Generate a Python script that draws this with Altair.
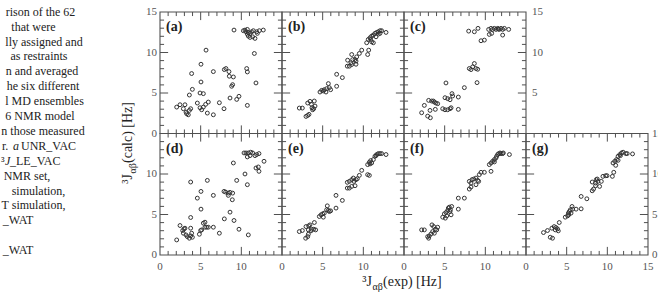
import altair as alt
import pandas as pd

# 3J(alpha,beta) couplings: experimental value vs. value back-calculated from each ensemble
A_EXP = [9.1, 10.25, 10.45, 10.74, 10.57, 10.86, 11.07, 11.27, 11.48, 11.89, 11.97, 12.21, 12.7, 10.86, 11.07, 11.39, 11.68, 10.74, 11.6, 11.8, 10.66, 10.74, 5.66, 5.04, 3.89, 6.56, 7.91, 8.11, 8.48, 8.52, 9.02, 8.93, 8.81, 5.04, 3.98, 3.61, 4.92, 5.33, 8.61, 9.43, 9.71, 10.74, 7.3, 7.87, 5.94, 5.61, 5.33, 4.59, 4.92, 5.12, 5.82, 6.56, 2.46, 2.05, 3.07, 2.87, 3.2, 3.28, 3.61, 3.77, 3.48]
A_CALC = [12.77, 12.69, 12.77, 12.85, 12.56, 12.48, 12.36, 12.56, 12.69, 12.56, 12.36, 12.69, 12.77, 12.02, 11.86, 11.94, 11.74, 12.27, 9.88, 6.24, 8.02, 7.6, 10.29, 8.55, 7.4, 7.64, 7.89, 8.02, 7.64, 7.07, 6.98, 6.03, 5.83, 6.36, 5.45, 4.75, 5.0, 4.92, 4.38, 4.21, 4.59, 3.47, 3.8, 3.06, 3.88, 3.6, 3.26, 3.76, 3.18, 2.93, 2.52, 2.31, 3.55, 3.26, 3.55, 3.06, 2.64, 2.44, 2.85, 3.06, 2.31]

B_EXP = [2.13, 2.5, 2.95, 3.16, 3.32, 3.16, 3.44, 3.97, 3.61, 3.69, 3.9, 4.06, 3.77, 4.67, 4.88, 5.08, 5.2, 5.49, 5.7, 5.82, 5.98, 5.41, 6.72, 6.72, 7.42, 8.03, 8.28, 8.48, 8.07, 8.57, 8.69, 8.98, 9.1, 9.18, 9.51, 9.8, 9.1, 8.57, 10.53, 10.66, 10.41, 10.61, 10.82, 11.02, 11.23, 11.43, 11.64, 11.84, 12.05, 12.25, 12.79, 11.23, 11.02, 11.56, 10.9, 11.84, 12.05]
B_CALC = [3.14, 3.14, 2.11, 2.23, 2.36, 3.76, 3.97, 4.01, 3.6, 3.18, 3.06, 3.39, 2.93, 5.12, 5.33, 5.25, 5.41, 5.54, 6.16, 5.66, 5.41, 5.12, 5.83, 7.31, 6.9, 8.31, 8.31, 8.72, 9.05, 9.75, 9.13, 9.13, 8.55, 9.46, 9.88, 10.29, 8.93, 8.51, 9.75, 10.29, 11.2, 11.61, 11.82, 12.02, 12.15, 12.36, 12.48, 12.56, 12.69, 12.69, 12.48, 11.2, 11.32, 11.94, 11.61, 12.27, 12.36]

C_EXP = [2.17, 2.5, 3.03, 3.4, 3.2, 2.91, 3.24, 3.61, 3.73, 3.93, 4.14, 3.85, 4.76, 5.04, 5.37, 5.66, 5.79, 5.04, 5.37, 5.66, 5.16, 5.9, 5.98, 6.68, 6.68, 7.42, 8.03, 8.24, 8.44, 8.65, 8.85, 9.06, 8.98, 7.95, 8.65, 9.1, 9.47, 9.88, 10.49, 10.41, 10.7, 10.9, 11.11, 11.31, 11.52, 11.72, 11.93, 12.13, 12.34, 12.87, 12.13, 10.78, 11.6]
C_CALC = [2.56, 3.47, 4.09, 4.01, 2.85, 2.15, 1.94, 4.01, 3.88, 3.76, 3.68, 2.98, 3.06, 2.93, 2.93, 3.06, 3.18, 4.42, 4.3, 4.17, 6.24, 4.92, 4.63, 4.5, 2.98, 5.66, 8.02, 7.89, 8.22, 8.64, 8.02, 7.93, 6.28, 12.64, 12.56, 12.98, 11.45, 11.53, 12.23, 12.85, 12.98, 12.85, 12.98, 12.85, 12.98, 12.85, 12.98, 12.85, 12.98, 12.85, 12.15, 12.36, 12.9]

D_EXP = [2.05, 2.46, 2.79, 2.95, 3.07, 2.87, 3.2, 3.36, 3.61, 3.77, 3.89, 3.98, 3.77, 3.77, 3.77, 4.59, 5.04, 5.04, 4.84, 5.0, 5.12, 5.33, 5.53, 5.53, 5.74, 5.94, 5.82, 6.56, 6.56, 7.3, 7.87, 8.07, 8.4, 8.61, 8.93, 8.4, 8.89, 8.61, 7.91, 9.1, 9.71, 10.86, 9.43, 9.02, 10.45, 10.74, 10.33, 10.57, 10.86, 11.15, 11.39, 10.74, 11.07, 11.68, 11.89, 12.17, 11.8, 12.09, 12.17, 12.79]
D_CALC = [1.86, 3.64, 3.02, 3.22, 3.31, 2.69, 2.48, 2.27, 2.07, 2.36, 2.69, 2.19, 3.31, 4.63, 9.01, 7.02, 7.85, 5.66, 2.56, 3.02, 3.1, 3.93, 4.05, 3.43, 3.43, 3.43, 9.21, 7.36, 3.43, 2.69, 7.85, 7.77, 7.64, 7.73, 7.64, 7.36, 6.82, 5.29, 4.46, 4.26, 3.18, 2.48, 9.21, 11.36, 10.0, 8.68, 12.6, 12.6, 12.6, 12.69, 12.6, 12.11, 12.27, 12.27, 12.4, 12.52, 10.74, 10.87, 10.33, 11.57]

E_EXP = [2.13, 2.5, 2.91, 3.16, 3.24, 2.95, 3.28, 3.44, 3.64, 3.56, 3.9, 4.14, 3.98, 3.24, 4.59, 4.8, 5.0, 5.2, 5.08, 5.49, 5.57, 5.7, 5.82, 5.98, 6.64, 6.64, 7.42, 8.03, 8.28, 8.03, 8.28, 8.57, 8.77, 8.85, 9.1, 9.26, 8.57, 8.98, 9.51, 9.8, 10.53, 10.74, 10.53, 10.74, 10.9, 11.02, 11.23, 11.43, 11.64, 11.84, 12.05, 12.25, 12.79, 10.82, 11.56]
E_CALC = [2.89, 3.02, 2.07, 2.27, 2.56, 3.51, 3.6, 3.72, 3.18, 2.98, 3.18, 3.1, 4.01, 3.1, 4.75, 4.96, 5.08, 5.17, 4.67, 5.58, 6.07, 5.5, 5.37, 5.45, 5.79, 7.36, 6.74, 8.26, 8.26, 8.97, 9.09, 9.3, 9.5, 9.09, 9.3, 9.42, 8.47, 8.55, 9.83, 10.45, 9.92, 9.83, 11.16, 11.45, 11.65, 11.36, 11.78, 12.19, 12.4, 12.52, 12.52, 12.52, 12.4, 11.24, 12.27]

F_EXP = [2.17, 2.5, 2.91, 3.11, 3.03, 3.32, 3.52, 3.44, 3.65, 3.85, 3.73, 4.02, 4.14, 4.76, 4.96, 5.16, 5.37, 5.45, 5.57, 5.66, 5.25, 5.08, 5.7, 5.86, 5.79, 6.68, 6.68, 7.42, 8.03, 8.24, 8.03, 8.36, 8.57, 8.85, 9.06, 9.18, 8.85, 9.26, 9.47, 9.88, 8.24, 10.7, 10.49, 10.7, 10.9, 11.11, 11.31, 11.39, 11.52, 11.64, 11.8, 11.93, 12.13, 12.21, 11.11, 12.96]
F_CALC = [3.1, 3.1, 2.27, 2.36, 2.07, 2.6, 2.89, 3.72, 3.51, 3.18, 2.69, 3.1, 3.43, 4.67, 5.08, 5.25, 5.5, 5.79, 5.91, 5.37, 4.83, 4.55, 5.58, 5.99, 4.96, 5.66, 7.02, 7.02, 8.14, 8.39, 9.09, 9.3, 9.38, 9.5, 9.21, 9.09, 8.68, 9.92, 10.21, 10.21, 8.88, 10.33, 11.16, 11.36, 11.57, 11.78, 11.98, 12.19, 12.4, 12.52, 12.6, 12.52, 12.52, 12.6, 11.49, 12.4]

G_EXP = [2.15, 2.64, 2.98, 3.26, 3.18, 3.47, 3.68, 3.88, 3.97, 4.09, 3.6, 4.83, 5.12, 5.21, 5.33, 5.25, 5.45, 5.66, 5.74, 5.54, 6.16, 6.78, 6.78, 7.48, 8.14, 8.31, 8.14, 8.55, 8.64, 8.84, 9.05, 9.26, 9.46, 9.79, 9.96, 8.55, 8.76, 10.62, 10.79, 10.7, 10.91, 11.12, 11.32, 11.53, 11.74, 11.94, 12.27, 12.44, 13.1, 11.03, 11.32, 11.61]
G_CALC = [2.77, 3.02, 2.19, 2.07, 3.31, 3.51, 3.39, 3.22, 2.98, 4.01, 3.1, 4.67, 4.83, 5.17, 5.37, 4.96, 5.58, 5.99, 5.66, 5.17, 5.66, 7.23, 5.7, 6.94, 7.93, 8.14, 9.01, 8.88, 9.3, 9.09, 8.47, 9.09, 9.71, 9.79, 9.79, 8.55, 9.38, 9.71, 10.21, 11.36, 11.57, 11.78, 12.19, 12.4, 12.6, 12.69, 12.52, 12.52, 12.48, 11.07, 11.69, 12.27]

PANEL_NAMES = ["a", "b", "c", "d", "e", "f", "g"]
SERIES = {
    "a": (A_EXP, A_CALC), "b": (B_EXP, B_CALC), "c": (C_EXP, C_CALC),
    "d": (D_EXP, D_CALC), "e": (E_EXP, E_CALC), "f": (F_EXP, F_CALC),
    "g": (G_EXP, G_CALC),
}
# which panel edges carry value labels, and the values printed there
LEFT_LABELS = {"a": [0, 5, 10, 15], "d": [0, 5, 10]}
BOTTOM_LABELS = {"d": [0, 5, 10], "e": [0, 5, 10], "f": [0, 5, 10], "g": [0, 5, 10, 15]}
RIGHT_LABELS = {"c": [5, 10, 15], "g": [0, 5, 10, 15]}

# Caption fragments next to the figure: (line, text, italic)
CAPTION_TEXT = [
    (0, "rison of the 62", False),
    (1, "that were", False),
    (2, "lly assigned and", False),
    (3, "as restraints", False),
    (4, "n and averaged", False),
    (5, "he six different", False),
    (6, "l MD ensembles", False),
    (7, "6 NMR model", False),
    (8, "n those measured", False),
    (9, "r.", False),
    (9, "a", True),
    (9, "UNR_VAC", False),
    (10, "\u00b3", False),
    (10, "J", True),
    (10, "_LE_VAC", False),
    (11, "NMR set,", False),
    (12, "simulation,", False),
    (13, "T simulation,", False),
    (14, "_WAT", False),
    (16, "_WAT", False),
]
# anchor (px from the page edge) and alignment of each caption fragment, same order
CAPTION_ANCHOR = [40.5, 33.5, 44, 39, 42, 43, 44.5, 40, 43, 2, 13, 21, 1, 5, 10, 27, 38.5, 33.5, 18, 18]
CAPTION_ALIGN = ["center"] * 9 + ["left"] * 6 + ["center"] * 5

# ---- layout: panels sit on one 4 x 2 grid, each cell spans 0..15 Hz on both axes
SPAN = 15
SLOT = {"a": (0, 0), "b": (1, 0), "c": (2, 0), "d": (0, 1), "e": (1, 1), "f": (2, 1), "g": (3, 1)}
W, H = 488, 243
PAD_L, PAD_T = 160, 12
LINE = "#505050"
LABEL_C = "#555555"
TEXT_C = "#222222"
FONT = "Liberation Serif"

xs = alt.Scale(domain=[0, 4 * SPAN], nice=False, zero=False)
ys = alt.Scale(domain=[0, 2 * SPAN], nice=False, zero=False)


def origin(key):
    c, r = SLOT[key]
    return c * SPAN, (1 - r) * SPAN


def gx(field="gx"):
    return alt.X(f"{field}:Q", scale=xs, axis=None)


def gy(field="gy"):
    return alt.Y(f"{field}:Q", scale=ys, axis=None)


pts = []
for key in PANEL_NAMES:
    ox, oy = origin(key)
    ex, ca = SERIES[key]
    for xv, yv in zip(ex, ca):
        pts.append({"panel": key, "exp": xv, "calc": yv, "gx": ox + xv, "gy": oy + yv})
pts = pd.DataFrame(pts)

frames = pd.DataFrame([
    {"x0": origin(k)[0], "x1": origin(k)[0] + SPAN, "y0": origin(k)[1], "y1": origin(k)[1] + SPAN}
    for k in PANEL_NAMES
])

# inward ticks on all four sides of every panel, every 1 Hz, longer every 5 Hz
ticks = []
for k in PANEL_NAMES:
    ox, oy = origin(k)
    for v in range(1, SPAN):
        L = 1.0 if v % 5 == 0 else 0.5
        ticks.append({"x1": ox + v, "x2": ox + v, "y1": oy, "y2": oy + L})
        ticks.append({"x1": ox + v, "x2": ox + v, "y1": oy + SPAN, "y2": oy + SPAN - L})
        ticks.append({"x1": ox, "x2": ox + L, "y1": oy + v, "y2": oy + v})
        ticks.append({"x1": ox + SPAN, "x2": ox + SPAN - L, "y1": oy + v, "y2": oy + v})
ticks = pd.DataFrame(ticks)

frame = alt.Chart(frames).mark_rect(fillOpacity=0, stroke=LINE, strokeWidth=1.1).encode(
    x=gx("x0"), x2="x1:Q", y=gy("y0"), y2="y1:Q",
)

tick_layer = alt.Chart(ticks).mark_rule(color=LINE, strokeWidth=1.0).encode(
    x=gx("x1"), x2="x2:Q", y=gy("y1"), y2="y2:Q",
)

points = alt.Chart(pts).mark_point(
    shape="circle", filled=False, size=15, strokeWidth=1.0, color="#333333", opacity=1
).encode(x=gx(), y=gy())

tags = pd.DataFrame([
    {"tag": f"({k})", "gx": origin(k)[0], "gy": origin(k)[1] + SPAN} for k in PANEL_NAMES
])
tag_layer = alt.Chart(tags).mark_text(
    align="left", baseline="middle", dx=6, dy=15, font=FONT, fontSize=14,
    fontWeight="bold", color=TEXT_C
).encode(x=gx(), y=gy(), text="tag:N")

# tick value labels, placed through the same scales as the data
left_rows, bottom_rows, right_rows = [], [], []
for k, vals in LEFT_LABELS.items():
    ox, oy = origin(k)
    left_rows += [{"v": v, "gx": ox, "gy": oy + v} for v in vals]
for k, vals in BOTTOM_LABELS.items():
    ox, oy = origin(k)
    bottom_rows += [{"v": v, "gx": ox + v, "gy": oy} for v in vals]
for k, vals in RIGHT_LABELS.items():
    ox, oy = origin(k)
    right_rows += [{"v": v, "gx": ox + SPAN, "gy": oy + v, "pad": 6 if k == "c" else 4} for v in vals]

label_style = dict(font=FONT, fontSize=11, color=LABEL_C)
left_layer = alt.Chart(pd.DataFrame(left_rows)).mark_text(
    align="right", baseline="middle", dx=-3, **label_style
).encode(x=gx(), y=gy(), text="v:N")
bottom_layer = alt.Chart(pd.DataFrame(bottom_rows)).mark_text(
    align="center", baseline="top", dy=6, **label_style
).encode(x=gx(), y=gy(), text="v:N")
right_df = pd.DataFrame(right_rows)
right_layers = [
    alt.Chart(sub).mark_text(align="left", baseline="middle", dx=int(pad), **label_style)
    .encode(x=gx(), y=gy(), text="v:N")
    for pad, sub in right_df.groupby("pad")
]


def note(text, px, py, size, align="left", angle=0, dx=0, dy=0, style="normal", color=TEXT_C):
    return alt.Chart(pd.DataFrame({"t": [text]})).mark_text(
        align=align, baseline="alphabetic", angle=angle, dx=dx, dy=dy, font=FONT,
        fontSize=size, fontStyle=style, color=color
    ).encode(x=alt.value(px), y=alt.value(py), text="t:N")


# axis titles: 3J with alpha-beta subscript
xt_x, xt_y = 372 - PAD_L, 286 - PAD_T
x_title = [
    note("\u00b3J", xt_x, xt_y, 14, align="right"),
    note("\u03b1\u03b2", xt_x, xt_y, 10, dx=0.5, dy=4),
    note("(exp) [Hz]", xt_x, xt_y, 14, dx=11),
]
yt_x, yt_y = 132 - PAD_L, 174 - PAD_T
y_title = [
    note("\u00b3J", yt_x, yt_y, 14, align="right", angle=270),
    note("\u03b1\u03b2", yt_x, yt_y, 10, angle=270, dx=0.5, dy=4),
    note("(calc) [Hz]", yt_x, yt_y, 14, angle=270, dx=11),
]

caption_layers = []
for (line, text, italic), anchor, align in zip(CAPTION_TEXT, CAPTION_ANCHOR, CAPTION_ALIGN):
    caption_layers.append(
        note(text, anchor - PAD_L, 11.7 + 14.9 * line - PAD_T + 4, 12, align=align,
             style="italic" if italic else "normal")
    )

chart = alt.layer(
    frame, tick_layer, points, tag_layer, left_layer, bottom_layer, *right_layers,
    *x_title, *y_title, *caption_layers
).properties(
    width=W, height=H,
    padding={"left": PAD_L, "top": PAD_T, "right": 10, "bottom": 40},
    autosize=alt.AutoSizeParams(type="none"),
    background="white",
).configure_view(stroke=None)

chart.save("out.html", embed_options={"renderer": "svg", "actions": False})
